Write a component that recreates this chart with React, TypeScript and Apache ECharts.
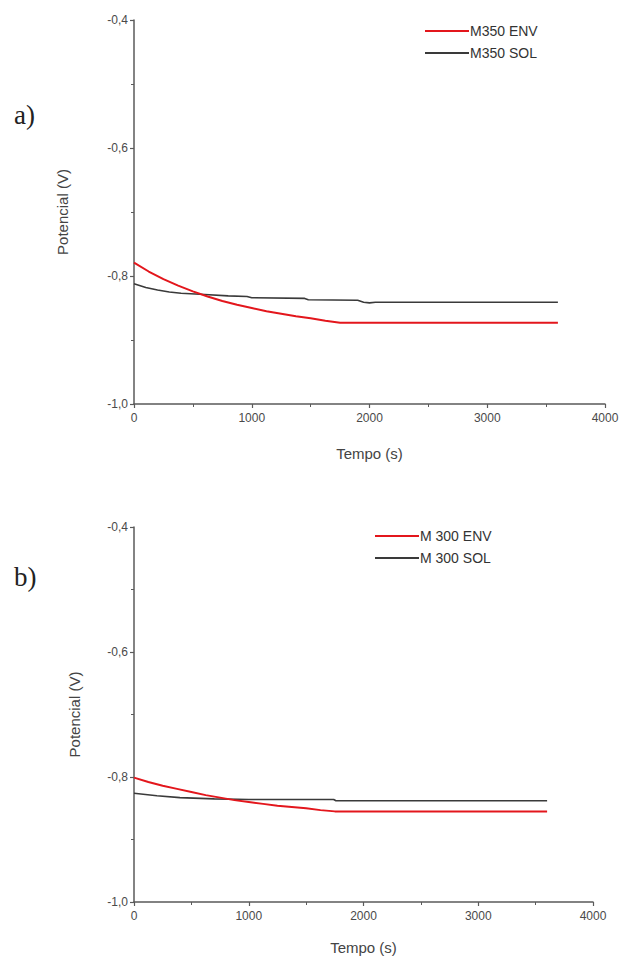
import React, { useEffect, useRef } from "react";
import * as echarts from "echarts";

// Panel a) M350
const timeA_env = [0, 125, 250, 375, 500, 625, 750, 875, 1000, 1125, 1250, 1375, 1500, 1625, 1750, 3600];
const valA_env = [-0.779, -0.793, -0.805, -0.815, -0.824, -0.832, -0.839, -0.845, -0.850, -0.855, -0.859, -0.863, -0.866, -0.870, -0.873, -0.873];
const timeA_sol = [0, 100, 200, 300, 400, 600, 800, 960, 1000, 1450, 1480, 1900, 1950, 2000, 2050, 3600];
const valA_sol = [-0.812, -0.818, -0.822, -0.825, -0.827, -0.829, -0.831, -0.832, -0.834, -0.835, -0.837, -0.838, -0.841, -0.842, -0.841, -0.841];

// Panel b) M300
const timeB_env = [0, 125, 250, 375, 500, 625, 750, 875, 1000, 1125, 1250, 1375, 1500, 1625, 1750, 3600];
const valB_env = [-0.801, -0.808, -0.814, -0.819, -0.824, -0.829, -0.833, -0.837, -0.840, -0.843, -0.846, -0.848, -0.850, -0.853, -0.855, -0.855];
const timeB_sol = [0, 200, 400, 700, 1000, 1500, 1740, 1760, 3600];
const valB_sol = [-0.826, -0.830, -0.833, -0.835, -0.836, -0.836, -0.836, -0.838, -0.838];

const seriesNamesA = ["M350 ENV", "M350 SOL"];
const seriesNamesB = ["M 300 ENV", "M 300 SOL"];
const panelLabels = ["a)", "b)"];
const xTitle = "Tempo (s)";
const yTitle = "Potencial (V)";

const RED = "#e3161c";
const DARK = "#3a3a3a";
const AXIS = "#5a5a5a";
const FONT = "Liberation Sans, Arial, sans-serif";

const pairs = (t: number[], v: number[]) => t.map((x, i) => [x, v[i]]);

function xAxisCfg(gridIndex: number) {
  return {
    type: "value",
    gridIndex,
    min: 0,
    max: 4000,
    interval: 1000,
    axisLine: { show: true, onZero: false, lineStyle: { color: AXIS, width: 1.5 } },
    axisTick: { show: true, inside: false, length: 4, lineStyle: { color: AXIS, width: 1.2 } },
    minorTick: { show: true, splitNumber: 2, length: 3, lineStyle: { color: AXIS } },
    splitLine: { show: false },
    axisLabel: {
      color: "#4a4a4a",
      fontSize: 12,
      fontFamily: FONT,
      margin: 8,
      formatter: (v: number) => String(Math.round(v)),
    },
    name: xTitle,
    nameLocation: "middle",
    nameGap: gridIndex === 0 ? 42 : 38,
    nameTextStyle: { color: "#444", fontSize: 15, fontFamily: FONT },
  };
}

function yAxisCfg(gridIndex: number, nameGap: number) {
  return {
    type: "value",
    gridIndex,
    min: -1,
    max: -0.4,
    interval: 0.2,
    axisLine: { show: true, onZero: false, lineStyle: { color: AXIS, width: 1.5 } },
    axisTick: { show: true, inside: false, length: 4, lineStyle: { color: AXIS, width: 1.2 } },
    minorTick: { show: true, splitNumber: 2, length: 3, lineStyle: { color: AXIS } },
    splitLine: { show: false },
    axisLabel: {
      color: "#4a4a4a",
      fontSize: 12,
      fontFamily: FONT,
      margin: 6,
      formatter: (v: number) => v.toFixed(1).replace(".", ","),
    },
    name: yTitle,
    nameLocation: "middle",
    nameRotate: 90,
    nameGap,
    nameTextStyle: { color: "#444", fontSize: 15, fontFamily: FONT },
  };
}

function legendCfg(names: string[], left: number, top: number) {
  return {
    data: names,
    orient: "vertical",
    left,
    top,
    icon: "rect",
    itemWidth: 44,
    itemHeight: 2,
    itemGap: 6,
    textStyle: { color: "#333", fontSize: 14, fontFamily: FONT, lineHeight: 16, padding: [0, 0, 0, -4] },
  };
}

export default function App() {
  const ref = useRef<HTMLDivElement>(null);
  useEffect(() => {
    if (!ref.current) return;
    const chart = echarts.init(ref.current, undefined, { renderer: "svg" });
    chart.setOption({
      animation: false,
      backgroundColor: "#ffffff",
      grid: [
        { left: 134, top: 20, width: 471, height: 384 },
        { left: 134, top: 527, width: 459, height: 375 },
      ],
      xAxis: [xAxisCfg(0), xAxisCfg(1)],
      yAxis: [yAxisCfg(0, 64), yAxisCfg(1, 52)],
      legend: [legendCfg(seriesNamesA, 420, 18), legendCfg(seriesNamesB, 370, 523)],
      graphic: [
        {
          type: "text",
          left: 14,
          top: 101,
          style: { text: panelLabels[0], font: "27px 'Liberation Serif', serif", fill: "#222" },
        },
        {
          type: "text",
          left: 14,
          top: 563,
          style: { text: panelLabels[1], font: "27px 'Liberation Serif', serif", fill: "#222" },
        },
      ],
      series: [
        {
          name: seriesNamesA[0],
          type: "line",
          xAxisIndex: 0,
          yAxisIndex: 0,
          showSymbol: false,
          symbol: "none",
          color: RED,
          lineStyle: { color: RED, width: 2 },
          data: pairs(timeA_env, valA_env),
          z: 3,
        },
        {
          name: seriesNamesA[1],
          type: "line",
          xAxisIndex: 0,
          yAxisIndex: 0,
          showSymbol: false,
          symbol: "none",
          color: DARK,
          lineStyle: { color: DARK, width: 1.6 },
          data: pairs(timeA_sol, valA_sol),
          z: 2,
        },
        {
          name: seriesNamesB[0],
          type: "line",
          xAxisIndex: 1,
          yAxisIndex: 1,
          showSymbol: false,
          symbol: "none",
          color: RED,
          lineStyle: { color: RED, width: 2 },
          data: pairs(timeB_env, valB_env),
          z: 3,
        },
        {
          name: seriesNamesB[1],
          type: "line",
          xAxisIndex: 1,
          yAxisIndex: 1,
          showSymbol: false,
          symbol: "none",
          color: DARK,
          lineStyle: { color: DARK, width: 1.6 },
          data: pairs(timeB_sol, valB_sol),
          z: 2,
        },
      ],
    });
    return () => chart.dispose();
  }, []);
  return (
    <div
      ref={ref}
      style={{ position: "absolute", left: 0, top: 0, width: 628, height: 961, background: "#fff" }}
    />
  );
}
